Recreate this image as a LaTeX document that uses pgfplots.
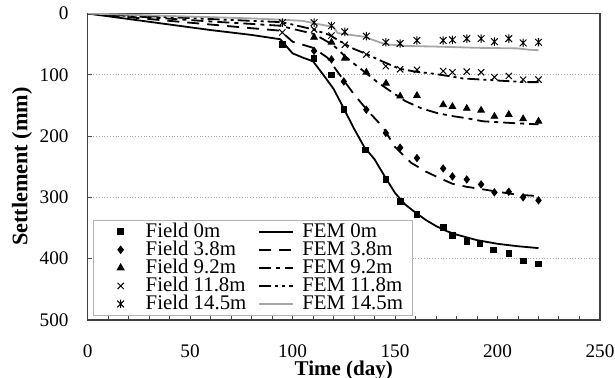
\documentclass[border=0pt]{standalone}
\usepackage{fontspec}
\setmainfont{Liberation Serif}
\usepackage{pgfplots}
\pgfplotsset{compat=1.18}
\pgfdeclareplotmark{xstar}{%
  \pgfpathmoveto{\pgfqpoint{-0.8\pgfplotmarksize}{-0.8\pgfplotmarksize}}%
  \pgfpathlineto{\pgfqpoint{0.8\pgfplotmarksize}{0.8\pgfplotmarksize}}%
  \pgfpathmoveto{\pgfqpoint{-0.8\pgfplotmarksize}{0.8\pgfplotmarksize}}%
  \pgfpathlineto{\pgfqpoint{0.8\pgfplotmarksize}{-0.8\pgfplotmarksize}}%
  \pgfpathmoveto{\pgfqpoint{0pt}{-\pgfplotmarksize}}%
  \pgfpathlineto{\pgfqpoint{0pt}{\pgfplotmarksize}}%
  \pgfusepathqstroke}
\pgfplotsset{
  fieldimg/.style={legend image code/.code={%
    \path[draw=none,fill=none] (0cm,-0.5pt) rectangle (0.6cm,0.5pt);
    \draw[##1, only marks] plot coordinates {(0.3cm,0cm)};}},
}
\begin{document}
\begin{tikzpicture}
\path[use as bounding box] (-43.75pt,-29pt) rectangle (263.5pt,159.75pt);
\begin{axis}[
  at={(0pt,0pt)}, anchor=south west,
  scale only axis, width=256pt, height=153pt,
  xmin=0, xmax=250, ymin=0, ymax=500, y dir=reverse,
  xtick={0,50,...,250}, ytick={0,100,...,500},
  minor x tick num=4,
  tick align=inside, xtick pos=bottom, ytick pos=left,
  major tick length=2pt, minor tick length=2pt,
  tick style={black!70, line width=0.5pt},
  ymajorgrids, grid style={densely dotted, gray!70, line width=0.4pt},
  axis line style={black!75, line width=0.8pt},
  /pgf/number format/assume math mode=true,
  ticklabel style={font=\fontsize{9.6}{11}\selectfont},
  xticklabel style={yshift=-9pt},
  yticklabel style={xshift=-6pt},
  xlabel={\bfseries Time (day)}, ylabel={\bfseries Settlement (mm)},
  xlabel style={font=\fontsize{10.5}{12}\selectfont, yshift=5.5pt},
  ylabel style={font=\fontsize{11.1}{13}\selectfont, at={([xshift=-32.75pt]rel axis cs:0,0.5)}, anchor=center},
  legend columns=2, legend cell align=left,
  legend style={at={(0.0107,0.013)}, anchor=south west, draw=gray!60, line width=0.5pt,
    font=\fontsize{10.4}{10.4}\selectfont, inner xsep=5pt, inner ysep=1.3pt,
    nodes={inner sep=0pt}, row sep=0.3pt,
    /tikz/every odd column/.append style={column sep=4pt},
    /tikz/every even column/.append style={column sep=6pt}},
]
% ---- 0 m
\addplot[only marks, mark=square*, mark size=1.4pt, black, fieldimg] coordinates {
(95,50)(110.5,73)(119,100)(125,157)(135.5,223)(145.5,271)(152.5,307)(160.7,328)
(173.5,349)(178,362)(185,372)(191.5,375)(198,386)(205.5,392)(212.5,404)(220,409)};
\addlegendentry{Field 0m}
\addplot[black, line width=0.9pt] coordinates {
(0,0)(20,9)(40,18)(60,27)(80,35)(94,42)(100,65)(105,72)(110,78)(115,100)(120,123)
(125,155)(130,188)(135,218)(140,238)(145,266)(150,293)(155,312)(160,325)(165,337)
(170,347)(175,355)(180,361)(190,370)(200,376)(210,380)(220,383)};
\addlegendentry{FEM 0m}
% ---- 3.8 m
\addplot[only marks, mark=diamond*, mark size=1.8pt, black, fieldimg] coordinates {
(110.5,61)(119,75)(125,111)(136,157)(145.5,195)(152.5,219)(160.7,236)(173.5,253)
(178,266)(185,271)(192,279)(198.5,292)(205.5,291)(212.5,300)(220,305)};
\addlegendentry{Field 3.8m}
\addplot[black, line width=0.9pt, dash pattern=on 6pt off 4pt] coordinates {
(0,0)(20,6)(40,12)(60,18)(80,24)(94,28)(100,46)(110,56)(117,72)(123,100)(130,132)
(137,160)(144,185)(150,218)(158,244)(165,258)(170,266)(178,278)(185,283)(191,286)
(200,291)(210,296)(220,298)};
\addlegendentry{FEM 3.8m}
% ---- 9.2 m
\addplot[only marks, mark=triangle*, mark size=1.9pt, black, fieldimg] coordinates {
(110.5,39)(119,47)(125.5,73)(136,96)(145.6,114)(152.5,135)(160.7,134)(173.5,149)
(178,152)(185,155)(192,158)(198.5,168)(205.5,165)(212.5,172)(220,176)};
\addlegendentry{Field 9.2m}
\addplot[black, line width=0.9pt, dash pattern=on 6pt off 2.5pt on 2pt off 2.5pt] coordinates {
(0,0)(20,4)(40,8.5)(60,13)(80,17)(94,20)(100,25)(110,33)(115,42)(120,52)(125,68)
(130,82)(135,95)(141,111)(147,125)(155,143)(163,155)(170,162)(177,167)(185,171)
(193,176)(208,179)(220,181)};
\addlegendentry{FEM 9.2m}
% ---- 11.8 m
\addplot[only marks, mark=x, mark size=2.2pt, black, line width=0.5pt, fieldimg] coordinates {
(95,31)(110.5,26)(119,36)(125.5,51)(136,67)(145.5,86)(152.5,91)(160.7,92)(173.5,94)
(178,96)(185,95)(192,96)(198.5,104)(205.5,102)(212.5,108)(220,108)};
\addlegendentry{Field 11.8m}
\addplot[black, line width=0.9pt, dash pattern=on 6pt off 2pt on 1.5pt off 2pt on 1.5pt off 2pt] coordinates {
(0,0)(20,3)(40,6)(60,9)(80,12)(94,14)(100,18)(110,26)(118,35)(123,45)(130,58)
(136,66)(143,77)(152,90)(160,95)(168,98)(176,102)(183,106)(193,108)(203,110)(214,112)(220,112)};
\addlegendentry{FEM 11.8m}
% ---- 14.5 m
\addplot[only marks, mark=xstar, mark size=2.1pt, black, line width=0.5pt, fieldimg] coordinates {
(95,15)(110.5,15)(119,20)(125.5,30)(136,37)(145.5,47)(152.5,49)(160.7,44)(173.5,44)
(178,43)(185,41)(192,41)(198.5,46)(205.5,41)(212.5,48)(220,47)};
\addlegendentry{Field 14.5m}
\addplot[black!35, line width=0.9pt] coordinates {
(0,0)(20,2)(40,4)(60,6)(80,8)(94,10)(105,12)(112,17)(120,22)(122,32)(135,38)
(140,44)(145,50)(155,53)(170,54)(190,56)(210,57)(215,59)(220,60)};
\addlegendentry{FEM 14.5m}
\end{axis}
\end{tikzpicture}
\end{document}
